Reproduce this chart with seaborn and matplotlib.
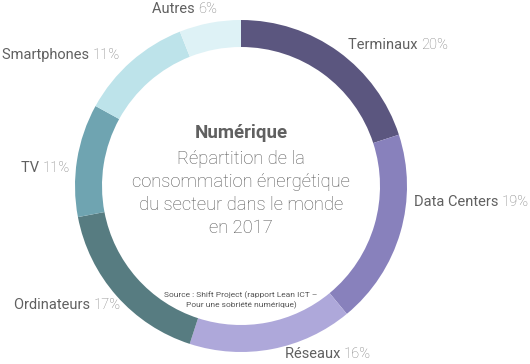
import matplotlib
matplotlib.use("Agg")
import matplotlib.pyplot as plt
import seaborn as sns

categories = ["Terminaux", "Data Centers", "Réseaux", "Ordinateurs", "TV", "Smartphones", "Autres"]
values = [20, 19, 16, 17, 11, 11, 6]
colors = ["#5b567f", "#8881bc", "#aea8da", "#577c81", "#6fa4b1", "#bde3ea", "#def2f6"]

title = "Numérique"
subtitle_lines = ["Répartition de la", "consommation énergétique", "du secteur dans le monde", "en 2017"]
source_lines = ["Source : Shift Project (rapport Lean ICT –", "Pour une sobriété numérique)"]

sns.set_theme(style="white")
plt.rcParams["font.family"] = ["Roboto", "DejaVu Sans"]

W, H = 530, 364
fig = plt.figure(figsize=(W / 100, H / 100), dpi=100)
ax = fig.add_axes([0, 0, 1, 1])

cx, cy = 241, H - 186
R, ring = 166, 27
ax.pie(values, colors=colors, startangle=90, counterclock=False,
       center=(cx, cy), radius=R,
       wedgeprops=dict(width=ring, linewidth=0, antialiased=True))
ax.set_xlim(0, W)
ax.set_ylim(0, H)
ax.set_aspect("equal")
ax.axis("off")

# label layout (pixel coords from top): (x, y, ha)
layout = {
    "Terminaux": (348, 45, "left"),
    "Data Centers": (414, 202, "left"),
    "Réseaux": (285, 354, "left"),
    "Ordinateurs": (121, 305, "right"),
    "TV": (70, 168, "right"),
    "Smartphones": (120, 55, "right"),
    "Autres": (152, 9, "left"),
}

fig.canvas.draw()
renderer = fig.canvas.get_renderer()
fs = 10.5
name_color = "#606060"
pct_color = "#808080"
for name, v in zip(categories, values):
    x, y, ha = layout[name]
    yy = H - y
    pct = f"{v}%"
    if ha == "left":
        t1 = ax.text(x, yy, name + " ", fontsize=fs, color=name_color, ha="left", va="center")
        bb = t1.get_window_extent(renderer)
        ax.text(bb.x1, yy, pct, fontsize=fs, color=pct_color, ha="left", va="center", fontweight="light")
    else:
        t2 = ax.text(x, yy, pct, fontsize=fs, color=pct_color, ha="right", va="center", fontweight="light")
        bb = t2.get_window_extent(renderer)
        ax.text(bb.x0, yy, name + " ", fontsize=fs, color=name_color, ha="right", va="center")

ax.text(cx, H - 133, title, fontsize=13.5, fontweight="bold", color="#606060", ha="center", va="center")
for i, line in enumerate(subtitle_lines):
    ax.text(cx, H - (159 + 23 * i), line, fontsize=13.2, fontweight="light", color="#555555",
            ha="center", va="center")
for i, line in enumerate(source_lines):
    ax.text(cx, H - (295 + 10 * i), line, fontsize=6.0, color="#555555", ha="center", va="center")

fig.savefig("out.png", dpi=100, facecolor="white")
